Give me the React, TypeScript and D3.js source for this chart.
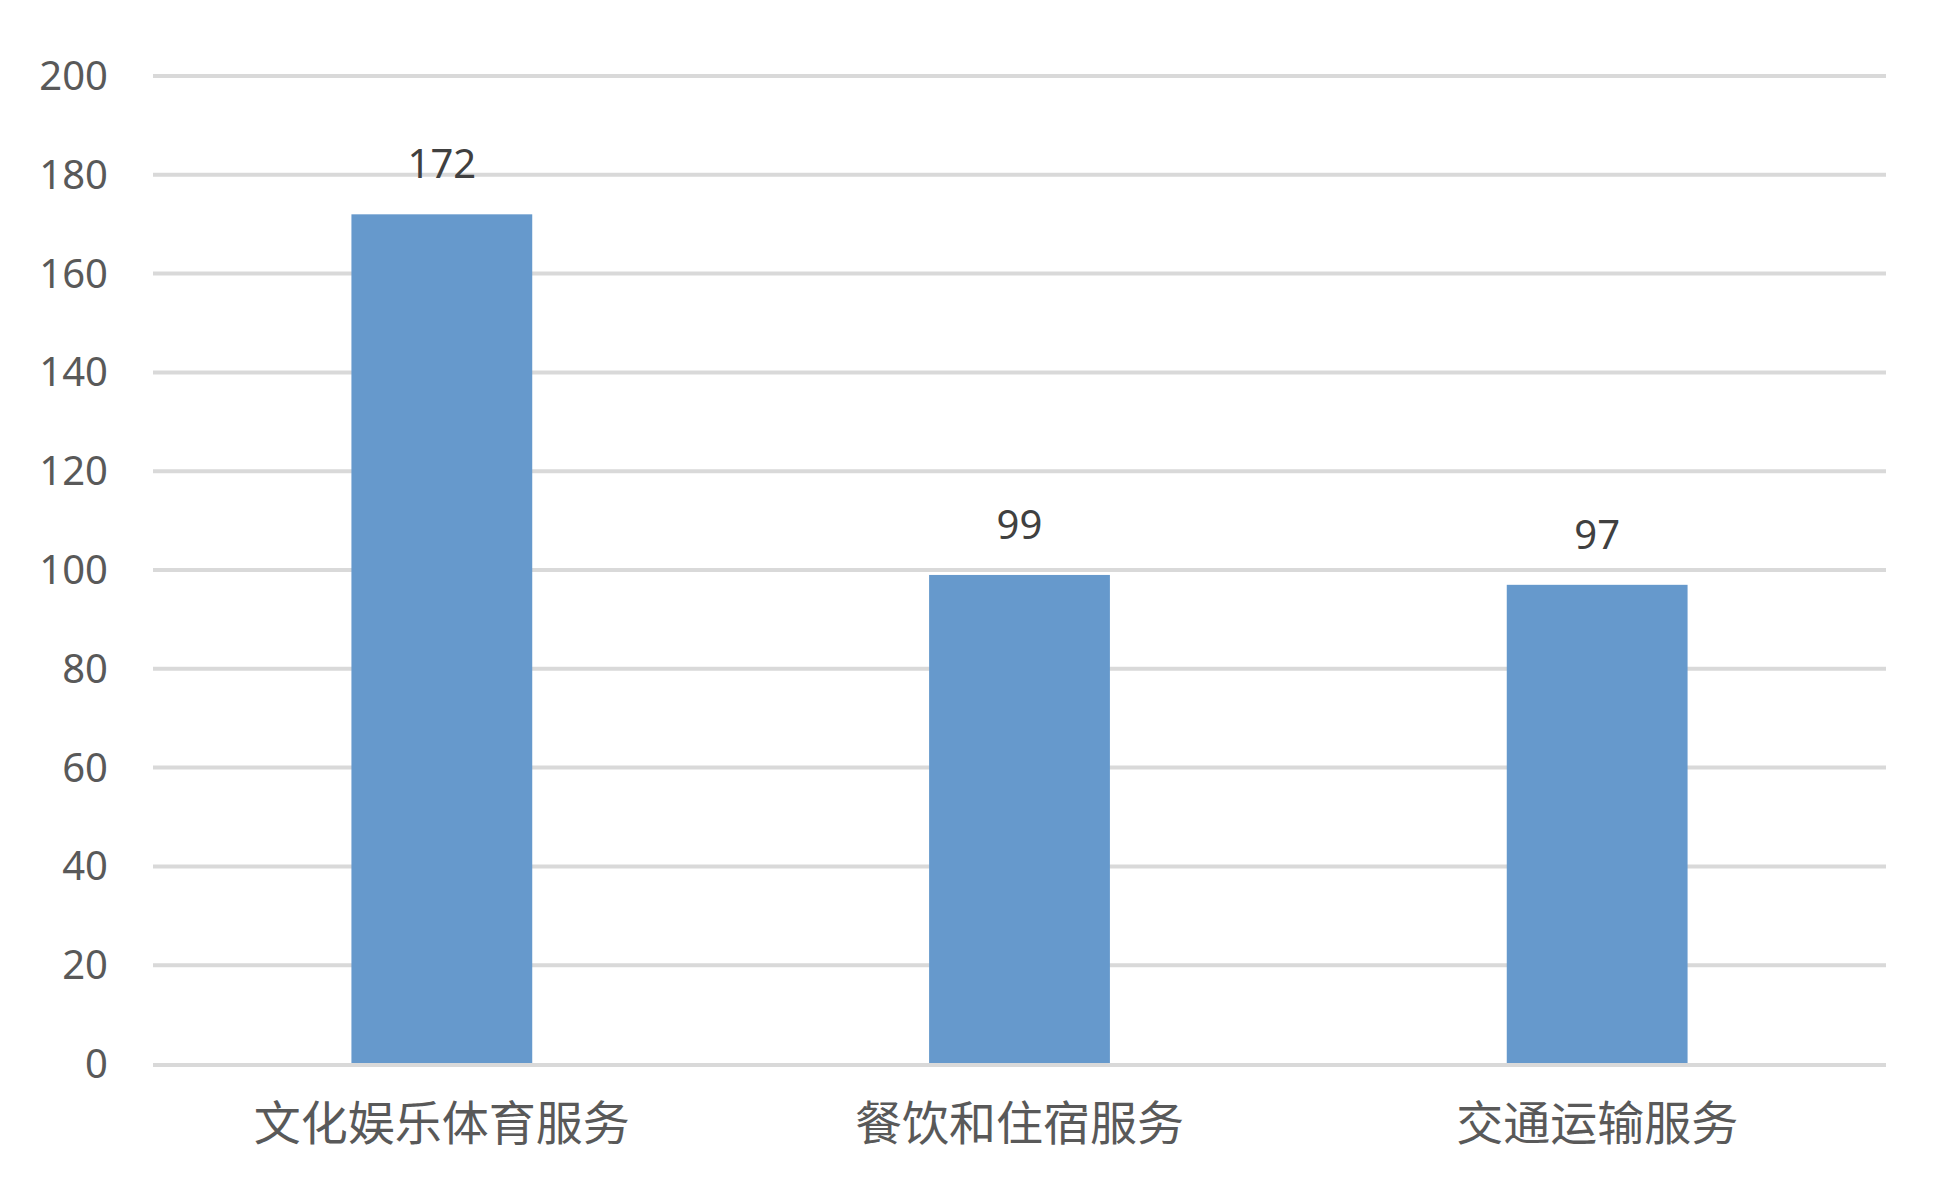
import React, { useEffect, useRef } from 'react'
import * as d3 from 'd3'

const categories = ['文化娱乐体育服务', '餐饮和住宿服务', '交通运输服务']
const counts = [172, 99, 97]
const yTicks = [0, 20, 40, 60, 80, 100, 120, 140, 160, 180, 200]

const WIDTH = 1952
const HEIGHT = 1190

export default function App() {
    const svgRef = useRef<SVGSVGElement>(null)

    useEffect(() => {
        if (!svgRef.current) return
        const svg = d3.select(svgRef.current)
        svg.selectAll('*').remove()

        const margin = { top: 76, right: 66, bottom: 126, left: 153 }
        const innerWidth = WIDTH - margin.left - margin.right
        const innerHeight = HEIGHT - margin.top - margin.bottom
        const font = '"Noto Sans", "Noto Sans CJK SC", sans-serif'

        const x = d3.scaleBand()
            .domain(categories)
            .range([0, innerWidth])
            .paddingInner(0.687)
            .paddingOuter(0.3435)

        const y = d3.scaleLinear()
            .domain([0, 200])
            .range([innerHeight, 0])

        svg.append('rect').attr('width', WIDTH).attr('height', HEIGHT).attr('fill', '#ffffff')

        const g = svg.append('g')
            .attr('transform', `translate(${margin.left},${margin.top})`)

        // gridlines
        g.append('g')
            .selectAll('line')
            .data(yTicks.filter(t => t !== 0))
            .enter().append('line')
            .attr('x1', 0)
            .attr('x2', innerWidth)
            .attr('y1', d => y(d))
            .attr('y2', d => y(d))
            .attr('stroke', '#d9d9d9')
            .attr('stroke-width', 4)

        // bars
        g.append('g')
            .selectAll('rect')
            .data(categories)
            .enter().append('rect')
            .attr('x', d => x(d) || 0)
            .attr('y', (d, i) => y(counts[i]))
            .attr('width', x.bandwidth())
            .attr('height', (d, i) => y(0) - y(counts[i]))
            .attr('fill', '#6699cc')

        // baseline
        g.append('line')
            .attr('x1', 0)
            .attr('x2', innerWidth)
            .attr('y1', y(0) + 1)
            .attr('y2', y(0) + 1)
            .attr('stroke', '#d9d9d9')
            .attr('stroke-width', 4)

        // Y tick labels
        g.append('g')
            .selectAll('text')
            .data(yTicks)
            .enter().append('text')
            .attr('x', -45)
            .attr('y', d => y(d))
            .attr('dy', '0.35em')
            .attr('text-anchor', 'end')
            .attr('font-family', font)
            .attr('font-size', 40)
            .attr('fill', '#595959')
            .text(d => d)

        // value labels
        g.append('g')
            .selectAll('text')
            .data(categories)
            .enter().append('text')
            .attr('x', d => (x(d) || 0) + x.bandwidth() / 2)
            .attr('y', (d, i) => y(counts[i]) - 36)
            .attr('text-anchor', 'middle')
            .attr('font-family', font)
            .attr('font-size', 40)
            .attr('fill', '#404040')
            .text((d, i) => counts[i])

        // category labels
        g.append('g')
            .selectAll('text')
            .data(categories)
            .enter().append('text')
            .attr('x', d => (x(d) || 0) + x.bandwidth() / 2)
            .attr('y', innerHeight + 60)
            .attr('dy', '0.35em')
            .attr('text-anchor', 'middle')
            .attr('font-family', '"Noto Sans CJK SC", sans-serif')
            .attr('font-size', 47)
            .attr('fill', '#595959')
            .text(d => d)
    }, [])

    return (
        <svg ref={svgRef} width={WIDTH} height={HEIGHT} viewBox={`0 0 ${WIDTH} ${HEIGHT}`}
            style={{ position: 'absolute', left: 0, top: 0 }} />
    )
}
